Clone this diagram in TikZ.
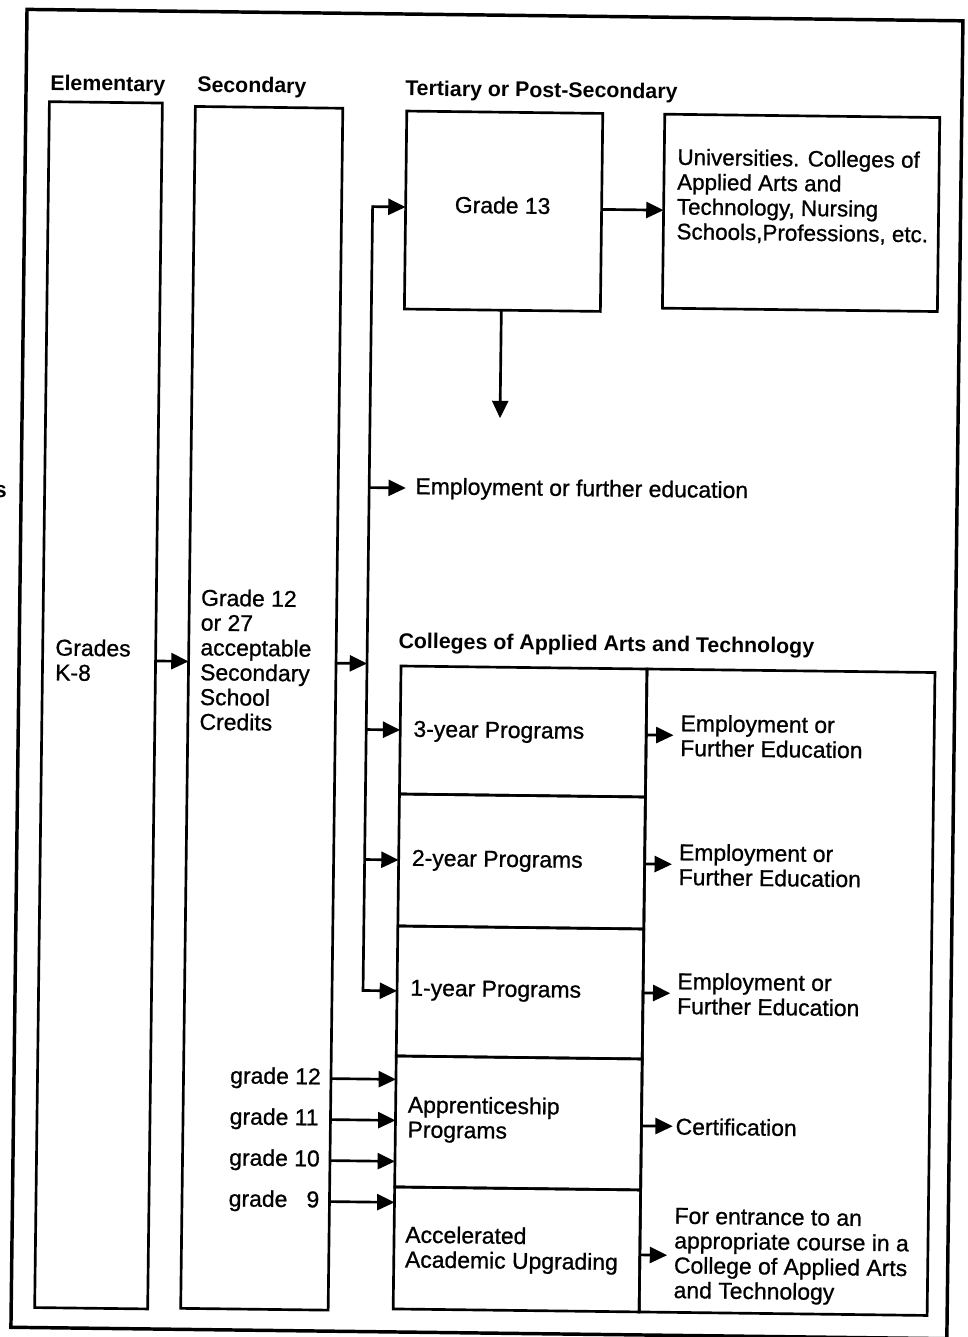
\documentclass[tikz,border=0pt]{standalone}
\usepackage{fontspec}
\setmainfont{Liberation Sans}
\newfontfamily\medfont{Liberation Sans}[FakeBold=0.9]
\usetikzlibrary{arrows.meta,calc}
\begin{document}
\begin{tikzpicture}[x=0.75pt,y=-0.75pt,
  box/.style={draw, line width=2pt, inner sep=0pt, outer sep=0pt},
  arr/.style={line width=2pt, -{Triangle[length=13pt,width=12pt]}},
  txt/.style={inner sep=0pt, anchor=west, align=left, font=\medfont\fontsize{17.2}{18.6}\selectfont},
  head/.style={inner sep=0pt, anchor=west, font=\bfseries\fontsize{16}{18}\selectfont}]
\useasboundingbox (0,0) rectangle (967,1337);
\begin{scope}[rotate around={-0.7:(483,668)}, transform shape]
% outer frame
\draw[line width=2.6pt] (19,15) rectangle (955,1333);
\node[font=\bfseries\fontsize{17}{18}\selectfont, anchor=east, inner sep=0pt] (sfrag) at (5,497) {s};
% headings
\node[head] (hElem) at (43,90) {Elementary};
\node[head] (hSec) at (190,90) {Secondary};
\node[head] (hTer) at (398,91) {Tertiary or Post-Secondary};
\node[head] (hCol) at (398,644) {Colleges of Applied Arts and Technology};
% main boxes
\node[box, minimum width=84.75pt, minimum height=904.5pt] (elem) at (99,710) {};
\node[box, minimum width=110.6pt, minimum height=901.5pt] (sec) at (262.25,711) {};
\node[box, minimum width=147pt, minimum height=148.5pt] (g13) at (498,211) {};
\node[box, minimum width=206.25pt, minimum height=145.5pt] (univ) at (795.5,209) {};
% colleges block
\node[box, minimum width=216pt, minimum height=482.25pt] (colR) at (791,988.5) {};
\node[box, minimum width=184.5pt, minimum height=96pt] (c3) at (524,731) {};
\node[box, minimum width=184.5pt, minimum height=99pt] (c2) at (524,861) {};
\node[box, minimum width=184.5pt, minimum height=97.5pt] (c1) at (524,992) {};
\node[box, minimum width=184.5pt, minimum height=98.25pt] (cap) at (524,1122.5) {};
\node[box, minimum width=184.5pt, minimum height=91.5pt] (acc) at (524,1249) {};
% texts
\node[txt] (gk8) at (55,665) {Grades\\K-8};
\node[txt] (secT) at (200,663) {Grade 12\\or 27\\acceptable\\Secondary\\School\\Credits};
\node[txt, anchor=center] (g13t) at (497,205) {Grade 13};
\node[txt, font=\medfont\fontsize{16.8}{18.6}\selectfont] (univT) at (671,193) {Universities. Colleges of\\Applied Arts and\\Technology, Nursing\\Schools,Professions, etc.};
\node[txt] (empfe) at (413,489) {Employment or further education};
\node[txt] (t3) at (414,732) {3-year Programs};
\node[txt] (t2) at (414,861) {2-year Programs};
\node[txt] (t1) at (414,991) {1-year Programs};
\node[txt] (tap) at (413,1120) {Apprenticeship\\Programs};
\node[txt] (tacc) at (412,1250) {Accelerated\\Academic Upgrading};
\node[txt] (r3) at (681,733) {Employment or\\Further Education};
\node[txt] (r2) at (681,862) {Employment or\\Further Education};
\node[txt] (r1) at (681,991) {Employment or\\Further Education};
\node[txt] (rcert) at (681,1124) {Certification};
\node[txt] (rent) at (681,1253) {For entrance to an\\appropriate course in a\\College of Applied Arts\\and Technology};
\node[txt] (gl12) at (235,1080.5) {grade 12};
\node[txt] (gl11) at (235,1121.5) {grade 11};
\node[txt] (gl10) at (235,1162.5) {grade 10};
\node[txt] (gl9) at (235,1203.5) {grade \phantom{1}9};
% trunk
\coordinate (tTop) at (367,208);
\coordinate (tEmp) at (367,489);
\coordinate (tMid) at (367,665);
\coordinate (dn) at (497,418);
\draw[line width=2pt, line cap=rect] (tTop) -- (c1.west -| tTop);
% connectors
\draw[arr] (elem.east |- gk8.west) -- (sec.west |- gk8.west);
\draw[arr] (sec.east |- tMid) -- (tMid);
\draw[arr] (tTop) -- (tTop -| g13.west);
\draw[arr, shorten >=7pt] (tEmp) -- (empfe.west);
\draw[arr] (c3.west -| tTop) -- (c3.west);
\draw[arr] (c2.west -| tTop) -- (c2.west);
\draw[arr] (c1.west -| tTop) -- (c1.west);
\draw[arr] (g13.east |- tTop) -- (univ.west |- tTop);
\draw[arr] (dn |- g13.south) -- (dn);
\draw[arr] (gl12.west -| sec.east) -- (gl12.west -| cap.west);
\draw[arr] (gl11.west -| sec.east) -- (gl11.west -| cap.west);
\draw[arr] (gl10.west -| sec.east) -- (gl10.west -| cap.west);
\draw[arr] (gl9.west -| sec.east) -- (gl9.west -| acc.west);
\draw[arr, shorten >=5pt] (r3.west -| colR.west) -- (r3.west);
\draw[arr, shorten >=5pt] (r2.west -| colR.west) -- (r2.west);
\draw[arr, shorten >=5pt] (r1.west -| colR.west) -- (r1.west);
\draw[arr, shorten >=2pt] (rcert.west -| colR.west) -- (rcert.west);
\draw[arr, shorten >=5pt] (rent.west -| colR.west) -- (rent.west);
\end{scope}
\end{tikzpicture}
\end{document}
